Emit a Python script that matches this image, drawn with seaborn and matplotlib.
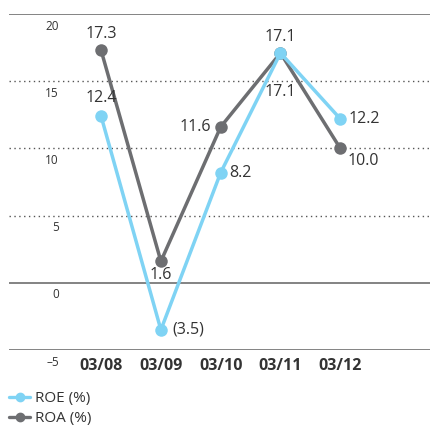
import seaborn as sns
import matplotlib.pyplot as plt
import pandas as pd

# chart values
periods = ["03/08", "03/09", "03/10", "03/11", "03/12"]
roe = [12.4, -3.5, 8.2, 17.1, 12.2]
roa = [17.3, 1.6, 11.6, 17.1, 10.0]
roe_labels = ["12.4", "(3.5)", "8.2", "17.1", "12.2"]
roa_labels = ["17.3", "1.6", "11.6", "17.1", "10.0"]
y_ticks = [20, 15, 10, 5, 0, -5]
y_tick_labels = ["20", "15", "10", "5", "0", "\u20135"]

# label offsets (points) and alignment for each data label
roe_off = [((0, 7), 'center', 'bottom'), ((8, 0), 'left', 'center'), ((6, 0), 'left', 'center'),
           ((0, -22), 'center', 'top'), ((6, 0), 'left', 'center')]
roa_off = [((0, 6), 'center', 'bottom'), ((0, -4), 'center', 'top'), ((-7, 0), 'right', 'center'),
           ((0, 6), 'center', 'bottom'), ((5, -3), 'left', 'top')]

BLUE = '#7fd3f4'
GREY = '#6d6e71'
TXT = '#333333'

sns.set_style("white")
plt.rcParams['font.family'] = ['Open Sans', 'DejaVu Sans']

df = pd.DataFrame({'period': periods * 2,
                   'value': roa + roe,
                   'series': ['ROA (%)'] * len(periods) + ['ROE (%)'] * len(periods)})
df['pos'] = list(range(len(periods))) * 2

fig = plt.figure(figsize=(4.3, 4.25), dpi=100)
ax = fig.add_axes([9 / 430, 1 - 350 / 425, 421 / 430, 336 / 425])

sns.lineplot(data=df, x='pos', y='value', hue='series', hue_order=['ROA (%)', 'ROE (%)'],
             palette={'ROA (%)': GREY, 'ROE (%)': BLUE}, marker='o', markersize=9,
             markeredgewidth=0, linewidth=2.5, ax=ax, legend=False, zorder=3)

ax.set_ylim(-5, 20)
ax.set_xlim(-1.54, 5.5)
for s in ax.spines.values():
    s.set_visible(False)
ax.set_xticks([])
ax.set_yticks([])
ax.set_xlabel('')
ax.set_ylabel('')

for v in y_ticks:
    if v in (20, 0, -5):
        ax.axhline(v, color='#7a7a7a', lw=1.3, zorder=1)
    else:
        ax.axhline(v, color='#555555', lw=1, ls=(0, (1, 2.5)), zorder=1)

for v, lab in zip(y_ticks, y_tick_labels):
    ax.annotate(lab, (0.118, v), xycoords=('axes fraction', 'data'), xytext=(0, -4),
                textcoords='offset points', ha='right', va='top', fontsize=8.5, color=TXT)

for i, p in enumerate(periods):
    ax.annotate(p, (i, -5), xycoords='data', xytext=(0, -6), textcoords='offset points',
                ha='center', va='top', fontsize=11.5, fontweight='bold', color=TXT,
                annotation_clip=False)

for vals, labs, offs in ((roe, roe_labels, roe_off), (roa, roa_labels, roa_off)):
    for i, (v, lab, (o, ha, va)) in enumerate(zip(vals, labs, offs)):
        ax.annotate(lab, (i, v), xytext=o, textcoords='offset points', ha=ha, va=va,
                    fontsize=11.5, color=TXT, zorder=5)

handles = [plt.Line2D([], [], color=BLUE, marker='o', markersize=6, lw=2.4),
           plt.Line2D([], [], color=GREY, marker='o', markersize=6, lw=2.4)]
fig.legend(handles, ['ROE (%)', 'ROA (%)'], loc='upper left', bbox_to_anchor=(0.003, 0.097),
           frameon=False, fontsize=11, handlelength=1.4, handletextpad=0.3,
           labelspacing=0.3, borderpad=0, labelcolor=TXT)

fig.savefig('out.png', dpi=100)
